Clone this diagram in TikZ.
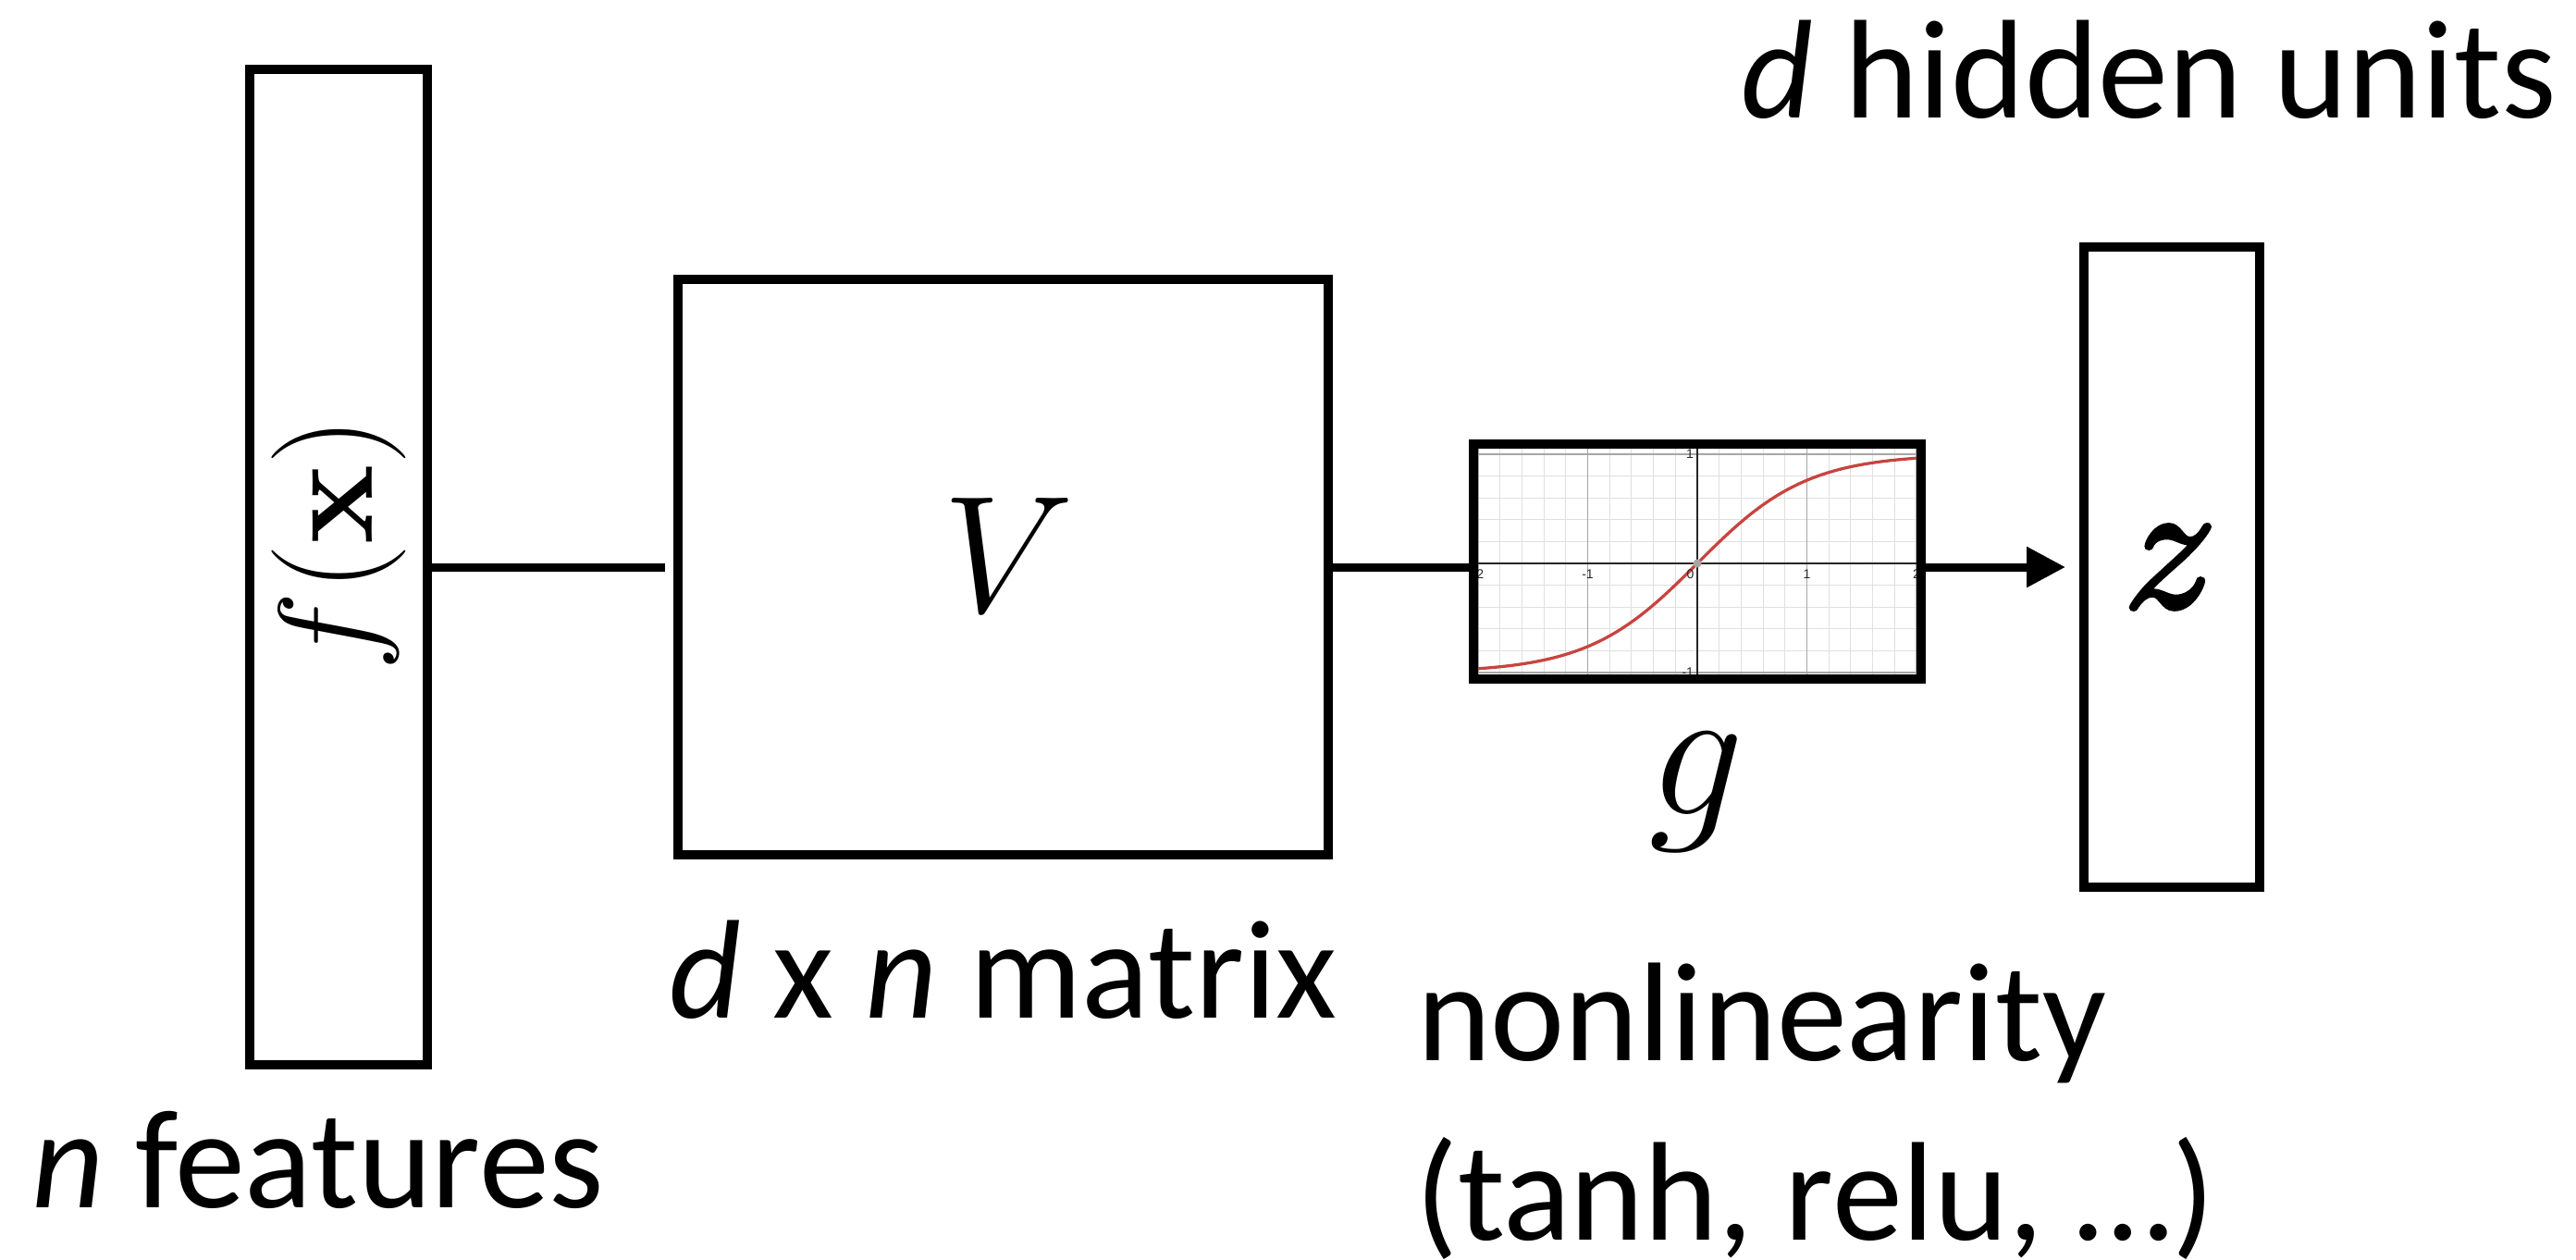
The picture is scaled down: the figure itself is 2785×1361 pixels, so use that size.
\RequirePackage{fix-cm}
\documentclass[tikz,border=0pt]{standalone}
\usepackage{amsmath}
\usepackage[no-math]{fontspec}
\setmainfont{Carlito}
\newfontfamily\tickfont{Liberation Sans}
\usetikzlibrary{arrows.meta}
\definecolor{dred}{HTML}{C74440}
\newcommand{\heavyz}{\special{pdf:literal direct 2 Tr 1.1 w}$z$\special{pdf:literal direct 0 Tr}}
\begin{document}
\begin{tikzpicture}[x=0.2pt,y=-0.2pt,
  box/.style={draw,line width=2pt,inner sep=0pt},
  conn/.style={line width=1.8pt},
  lbl/.style={inner sep=0pt,font=\fontsize{30.4}{36}\selectfont},
  gridminor/.style={draw=black!12,line width=0.2pt},
  gridmajor/.style={draw=black!35,line width=0.25pt},
  axisline/.style={draw=black!85,line width=0.4pt},
  tick/.style={inner sep=0pt,text=black!85,font=\tickfont\fontsize{2.8}{3.2}\selectfont}]
\useasboundingbox (0,0) rectangle (2785,1361);

% feature vector
\node[box,minimum width=38.4pt,minimum height=215.2pt] (fx) at (366,613) {};
\node[rotate=90,inner sep=0pt,font=\fontsize{29}{32}\selectfont] (fxl) at (366,588) {$f(\mathbf{x})$};

% matrix V
\node[box,minimum width=140.6pt,minimum height=124.4pt] (V) at (1084.5,613) {};
\node[inner sep=0pt,font=\fontsize{36}{40}\selectfont] (Vl) at (1090,600) {$V$};

% nonlinearity plot
\begin{scope}[shift={(1835,609)},x=23.7pt,y=23.6pt]
  \clip (-2.01,-1.02) rectangle (2.01,1.05);
  \foreach \i in {-11,...,11} \draw[gridminor] (\i/5,-1.3) -- (\i/5,1.3);
  \foreach \j in {-6,...,6} \draw[gridminor] (-2.3,\j/5) -- (2.3,\j/5);
  \foreach \i in {-2,...,2} \draw[gridmajor] (\i,-1.3) -- (\i,1.3);
  \foreach \j in {-1,0,1} \draw[gridmajor] (-2.3,\j) -- (2.3,\j);
  \draw[axisline] (-2.3,0) -- (2.3,0);
  \draw[axisline] (0,-1.3) -- (0,1.3);
  \draw[dred,line width=0.65pt,domain=-2.1:2.1,samples=90,smooth] plot (\x,{tanh(\x)});
  \fill[black!35] (0,0) circle[radius=0.9pt];
  \node[tick,anchor=north,yshift=-1.1pt] (tm2) at (-2,0) {-2};
  \node[tick,anchor=north,yshift=-1.1pt] (tm1) at (-1,0) {-1};
  \node[tick,anchor=north east,yshift=-1.1pt,xshift=-0.5pt] (t0) at (0,0) {0};
  \node[tick,anchor=north,yshift=-1.1pt] (tp1) at (1,0) {1};
  \node[tick,anchor=north,yshift=-1.1pt] (tp2) at (2,0) {2};
  \node[tick,anchor=east,xshift=-0.6pt] (ty1) at (0,1) {1};
  \node[tick,anchor=east,xshift=-0.6pt] (tym1) at (0,-1) {-1};
\end{scope}
\node[box,minimum width=96.8pt,minimum height=50.8pt] (plot) at (1835,607) {};
\node[inner sep=0pt,anchor=base,font=\fontsize{41}{45}\selectfont] (gl) at (1834,880) {$g$};

% hidden units
\node[box,minimum width=38pt,minimum height=138.4pt] (z) at (2348,613) {};
\node[inner sep=0pt,font=\fontsize{40}{44}\selectfont] (zl) at (2346,613) {\heavyz};

% connectors
\draw[conn,shorten >=1.8pt] (fx.east) -- (V.west);
\draw[conn] (V.east) -- (V.east -| plot.west);
\draw[conn,-{Triangle[length=8.4pt,width=8.4pt]},shorten >=3pt] (V.east -| plot.east) -- (z.west);

% labels
\node[lbl,anchor=base east] (hid) at (2765,127) {\textit{d} hidden units};
\node[lbl,anchor=base west] (mat) at (722,1100) {\textit{d} x \textit{n} matrix};
\node[lbl,anchor=base west] (feat) at (33,1305) {\textit{n} features};
\node[lbl,anchor=base west] (nonl) at (1531,1146) {nonlinearity};
\node[lbl,anchor=base west] (ex) at (1529,1340) {(tanh, relu, …)};
\end{tikzpicture}
\end{document}
